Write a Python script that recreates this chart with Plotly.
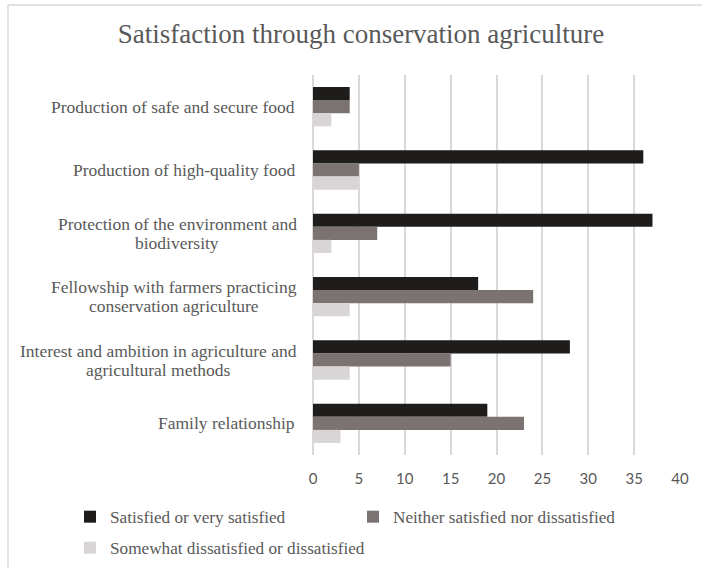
import plotly.graph_objects as go

# Survey categories, listed top to bottom ("<br>" marks the label line break)
categories = [
    "Production of safe and secure food",
    "Production of high-quality food",
    "Protection of the environment and<br>biodiversity",
    "Fellowship with farmers practicing<br>conservation agriculture",
    "Interest and ambition in agriculture and<br>agricultural methods",
    "Family relationship",
]

series_names = [
    "Satisfied or very satisfied",
    "Neither satisfied nor dissatisfied",
    "Somewhat dissatisfied or dissatisfied",
]
satisfied = [4, 36, 37, 18, 28, 19]
neither = [4, 5, 7, 24, 15, 23]
dissatisfied = [2, 5, 2, 4, 4, 3]
series_values = [satisfied, neither, dissatisfied]
series_colors = ["#1f1d1b", "#7b7372", "#d9d5d6"]
series_legends = ["legend", "legend", "legend2"]

x_ticks = [0, 5, 10, 15, 20, 25, 30, 35, 40]

W, H = 702, 568
L, R, T, B = 313, 22, 75, 113
pw, ph = W - L - R, H - T - B

serif = "Liberation Serif, Times New Roman, serif"
text_grey = "#595959"

fig = go.Figure()
for name, vals, col, lg in zip(series_names, series_values, series_colors, series_legends):
    fig.add_trace(go.Bar(
        y=categories, x=vals, name=name, orientation="h",
        marker=dict(color=col, line=dict(width=0)), legend=lg,
    ))

# Width estimate used to centre the lines of two-line labels
try:
    from PIL import ImageFont
    _font = ImageFont.truetype("LiberationSerif-Regular.ttf", 17.5)

    def text_w(s):
        return _font.getlength(s)
except Exception:
    def text_w(s):
        return len(s) * 7.2

# Category labels: one annotation per text line, lines centred on each other
annotations = []
line_gap = 19
label_pad = 16
for cat in categories:
    lines = cat.split("<br>")
    n = len(lines)
    widest = max(text_w(s) for s in lines)
    for i, line in enumerate(lines):
        if n > 1:
            x, anchor = (-label_pad - widest / 2) / pw, "center"
        else:
            x, anchor = -label_pad / pw, "right"
        annotations.append(dict(
            x=x, xref="paper", xanchor=anchor,
            y=cat, yref="y", yanchor="middle",
            yshift=((n - 1) / 2 - i) * line_gap,
            text=line, showarrow=False,
            font=dict(family=serif, size=17.5, color=text_grey),
        ))

# Light frame lines along the top and left of the chart
frame = dict(color="#d9d9d9", width=1.5)
shapes = [
    dict(type="line", xref="paper", yref="paper",
         x0=(8 - L) / pw, x1=(W + 10 - L) / pw,
         y0=1 + (T - 5) / ph, y1=1 + (T - 5) / ph, line=frame, layer="below"),
    dict(type="line", xref="paper", yref="paper",
         x0=(8 - L) / pw, x1=(8 - L) / pw,
         y0=1 + (T - 5) / ph, y1=-(H + 10 - T - ph) / ph, line=frame, layer="below"),
]

legend_font = dict(family=serif, size=17.2, color=text_grey)
legend_x = (70 - L) / pw

fig.update_layout(
    width=W, height=H,
    margin=dict(l=L, r=R, t=T, b=B, autoexpand=False),
    paper_bgcolor="white", plot_bgcolor="white",
    barmode="group", bargap=0.38, bargroupgap=0,
    title=dict(
        text="Satisfaction through conservation agriculture",
        x=361 / W, xanchor="center", y=1 - 33.5 / H, yanchor="middle",
        font=dict(family=serif, size=27, color=text_grey),
    ),
    xaxis=dict(
        range=[0, 40], tickvals=x_ticks, ticktext=[str(t) for t in x_ticks],
        showgrid=True, gridcolor="#d9d9d9", gridwidth=1.5,
        zeroline=True, zerolinecolor="#d9d9d9", zerolinewidth=1.5,
        showline=False, ticks="outside", ticklen=8, tickcolor="rgba(0,0,0,0)",
        ticklabelstandoff=2, automargin=False,
        tickfont=dict(family="Lato, Open Sans, sans-serif", size=15, color=text_grey),
        fixedrange=True,
    ),
    yaxis=dict(
        autorange="reversed", showticklabels=False, showgrid=False,
        showline=False, ticks="", zeroline=False, automargin=False,
    ),
    showlegend=True,
    legend=dict(
        orientation="h", x=legend_x, xanchor="left",
        y=-(499 - T - ph) / ph, yanchor="top",
        font=legend_font, itemwidth=30, entrywidth=238,
        bgcolor="rgba(0,0,0,0)",
    ),
    legend2=dict(
        orientation="h", x=legend_x, xanchor="left",
        y=-(530 - T - ph) / ph, yanchor="top",
        font=legend_font, itemwidth=30,
        bgcolor="rgba(0,0,0,0)",
    ),
    annotations=annotations,
    shapes=shapes,
)

fig.write_html("out.html")
